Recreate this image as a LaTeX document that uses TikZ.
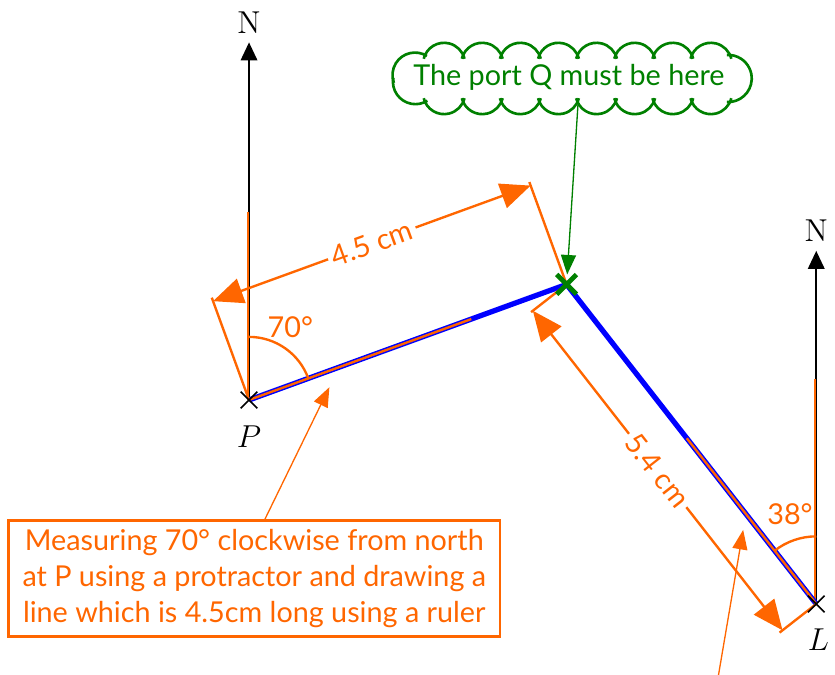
\documentclass[tikz,border=0pt]{standalone}
\usepackage{fontspec}
\newfontfamily\lblfont{Lato}
\usepackage{tikz}
\usetikzlibrary{arrows.meta,calc,positioning,shapes.misc}
\definecolor{portorange}{RGB}{255,102,0}
\definecolor{portgreen}{RGB}{0,128,0}

\begin{document}
\begin{tikzpicture}[>={Triangle[length=2.4mm,width=2.2mm]},
  orng/.style={portorange,line width=0.9pt},
  dimline/.style={portorange,line width=0.9pt,{Triangle[length=4mm,width=3.4mm]}-{Triangle[length=4mm,width=3.4mm]}},
  lbl/.style={font=\lblfont\fontsize{10.9}{13.6}\selectfont},
  crossmark/.style={cross out,draw=black,line width=0.6pt,minimum size=0.2cm,inner sep=0pt},
  pointer/.style={portorange,line width=0.5pt,-{Triangle[length=2.6mm,width=2mm]}},
  puff/.style={portgreen,line width=1pt}]
\useasboundingbox (-3.316,-3.662) rectangle (7.803,5.326);

\coordinate (P) at (0,0);
\coordinate (Q) at (20:4.5);
\coordinate (L) at ($(Q)+(-52:5.4)$);

% north lines
\node[font=\large] (nP) at (0,5.03) {N};
\node[font=\large] (nL) at ($(L)+(0,4.97)$) {N};
\draw[->,line width=0.7pt] (P) -- (nP);
\draw[->,line width=0.7pt] (L) -- (nL);
\draw[orng] ([xshift=-0.4pt]P) -- ++(0,2.5);
\draw[orng] ([xshift=-0.4pt]L) -- ++(0,3.0);

% the route
\draw[blue,line width=2pt] (P) -- (Q) -- (L);
\draw[portorange,line width=0.9pt] (P) -- ($(P)!3.15cm!(Q)$);
\draw[portorange,line width=0.9pt] (L) -- ($(L)!2.8cm!(Q)$);

% angles
\draw[orng] (0,0.84) arc[start angle=90,end angle=20,radius=0.84];
\node[lbl,text=portorange] (a70) at (0.55,0.97) {70°};
\draw[orng] ($(L)+(0,0.9)$) arc[start angle=90,end angle=128,radius=0.9];
\node[lbl,text=portorange] (a38) at ($(L)+(-0.35,1.2)$) {38°};

% dimensions
\draw[orng] (P) -- ($(P)+(110:1.45)$);
\draw[orng] (Q) -- ($(Q)+(110:1.45)$);
\draw[dimline] ($(P)+(110:1.4)$) -- ($(Q)+(110:1.4)$)
  node[midway,fill=white,rotate=20,lbl,text=portorange,inner sep=1.5pt] (d45) {4.5 cm};
\draw[orng] (Q) -- ($(Q)+(218:0.6)$);
\draw[orng] (L) -- ($(L)+(218:0.62)$);
\draw[dimline] ($(Q)+(218:0.57)$) -- ($(L)+(218:0.57)$)
  node[midway,fill=white,rotate=-52,lbl,text=portorange,inner sep=1.5pt] (d54) {5.4 cm};

% points
\node[crossmark] (xP) at (P) {};
\node[crossmark] (xL) at (L) {};
\node[cross out,draw=portgreen,line width=1.8pt,minimum size=0.2cm,inner sep=0pt] (xQ) at (Q) {};
\node[font=\large] (lblP) at (0,-0.49) {$P$};
\node[font=\large] (lblL) at ($(L)+(0.03,-0.48)$) {$L$};

% cloud note
\node[lbl,text=portgreen] (cloudQ) at (4.26,4.29) {The port Q must be here};
\foreach \i in {0,...,7}{
  \draw[puff] ({2.344+0.5075*(\i+0.5)},4.476) ++(166:0.28) arc[start angle=166,end angle=14,radius=0.28];
  \draw[puff] ({2.344+0.5075*(\i+0.5)},4.086) ++(194:0.28) arc[start angle=194,end angle=346,radius=0.28];
}
\draw[puff] (2.216,4.239) ++(170:0.3) arc[start angle=170,end angle=302,radius=0.3];
\draw[puff] (2.210,4.326) ++(58:0.3) arc[start angle=58,end angle=200,radius=0.3];
\draw[puff] (6.380,4.281) ++(-93:0.314) arc[start angle=-93,end angle=93,radius=0.314];
\coordinate (cloudtip) at (4.38,3.93);
\draw[portgreen,line width=0.5pt,-{Triangle[length=2.6mm,width=2mm]}] (cloudtip) -- (xQ);

% text note
\node[draw=portorange,line width=1pt,text=portorange,lbl,align=center,
  minimum width=6.54cm,minimum height=1.53cm] (note) at (0.07,-2.38)
  {Measuring 70° clockwise from north\\at P using a protractor and drawing a\\line which is 4.5cm long using a ruler};
\coordinate (hit1) at (1.07,0.17);
\draw[pointer] ([xshift=0.14cm]note.north) -- (hit1);
\coordinate (tail2) at (6.245,-3.70);
\coordinate (hit2) at (6.58,-1.73);
\draw[pointer] (tail2) -- (hit2);
\end{tikzpicture}
\end{document}
